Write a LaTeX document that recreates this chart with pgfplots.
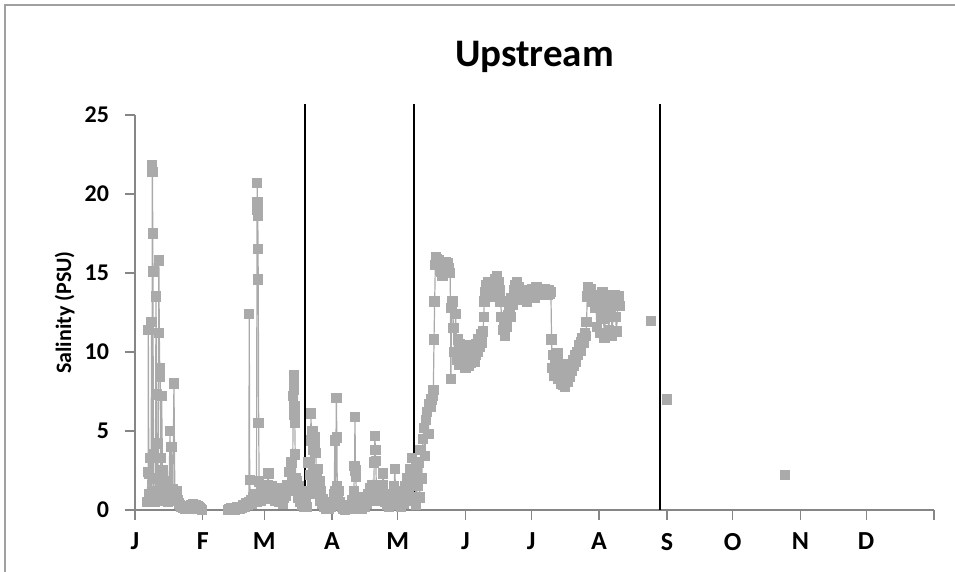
\documentclass[border=0pt]{standalone}
\usepackage{pgfplots}
\pgfplotsset{compat=1.18}
\usepackage{fontspec}
\setmainfont{Carlito}
\definecolor{dat}{RGB}{170,170,170}
\definecolor{axc}{RGB}{134,134,134}
\definecolor{frm}{RGB}{160,160,160}
\pgfplotsset{datst/.style={color=dat, line width=0.6pt, mark=square*, mark size=2.3pt, mark options={fill=dat, draw=dat, solid}}}
\begin{document}
\begin{tikzpicture}
\useasboundingbox (-67.5pt,-31pt) rectangle (410pt,255pt);
\draw[frm, line width=0.6pt] (-65pt,-31pt) -- (-65pt,252.5pt) -- (410pt,252.5pt);
\begin{axis}[
  at={(0,0)}, anchor=south west,
  scale only axis, width=399.5pt, height=197.5pt,
  xmin=0, xmax=365, ymin=0, ymax=25,
  clip=false,
  axis lines=left,
  axis line style={axc, line width=0.6pt, -},
  tick style={axc, line width=0.6pt},
  tick align=outside,
  major tick length=5pt,
  xtick={0,31,59,90,120,151,181,212,243,273,304,334,365},
  xticklabels={J,F,M,A,M,J,J,A,S,O,N,D,},
  ytick={0,5,10,15,20,25},
  /pgf/number format/assume math mode=true,
  xticklabel style={font=\bfseries\fontsize{13}{15}\selectfont, anchor=north, yshift=-3pt},
  yticklabel style={font=\bfseries\fontsize{12}{14}\selectfont, anchor=east, xshift=-4.5pt},
  title={Upstream},
  title style={font=\bfseries\fontsize{19.5}{22}\selectfont, at={(0.5,1)}, anchor=center, yshift=23pt},
  ylabel={Salinity (PSU)},
  ylabel style={font=\bfseries\fontsize{11}{13}\selectfont, at={(axis description cs:-0.088,0.5)}, anchor=center},
]
% January
\addplot[datst] coordinates {
(5.5,0.5)(6,2.4)(6.1,11.4)(6.3,2.3)(6.6,1.0)(7,3.3)(7.3,0.8)(7.6,11.9)(7.8,1.2)(7.9,21.8)(8.0,21.4)(8.1,17.5)(8.2,15.1)(8.4,3.5)(8.6,0.9)(9,0.5)(9.3,1.2)(9.6,13.5)(9.8,7.3)(10,2.0)(10.3,0.8)(10.6,4.2)(10.9,15.8)(11.1,11.2)(11.3,9.0)(11.5,8.4)(11.7,3.3)(11.9,1.5)(12.2,7.2)(12.5,2.5)(12.8,0.7)(13.1,1.8)(13.5,0.9)(14,0.6)(14.5,1.1)(15,0.5)(15.5,0.9)(16,5.0)(16.3,0.8)(16.7,4.0)(17,0.6)(17.3,1.3)(17.8,8.0)(18.2,1.0)(18.6,0.8)(19,1.2)(19.5,0.6)(20,0.4)(20.5,0.3)(21,0.2)(21.5,0.25)(22,0.15)(22.5,0.2)(23,0.1)(23.5,0.15)(24,0.2)(24.5,0.1)(25,0.2)(25.5,0.3)(26,0.2)(26.5,0.35)(27,0.3)(27.5,0.2)(28,0.3)(28.5,0.25)(29,0.15)(29.5,0.1)(30,0.05)(30.5,0.0)
};
% March to August
\addplot[datst] coordinates {
(42.5,0.0)(43,0.05)(43.5,0.0)(44,0.1)(44.5,0.05)(45,0.1)(45.5,0.0)(46,0.1)(46.5,0.15)(47,0.1)(47.5,0.2)(48,0.1)(48.5,0.2)(49,0.15)(49.5,0.3)(50,0.2)(50.5,0.3)(51,0.4)(51.5,0.3)(52,0.5)(52.2,12.4)(52.4,1.9)(52.7,0.5)(53,0.6)(53.5,0.4)(54,0.8)(54.5,0.6)(55,1.0)(55.5,0.5)(55.8,20.7)(55.9,19.5)(56.0,19.0)(56.1,18.6)(56.2,16.5)(56.3,14.6)(56.5,5.5)(56.7,1.8)(57,0.9)(57.5,0.6)(58,1.2)(58.5,0.8)(59,1.5)(59.5,1.0)(60,0.7)(60.5,1.6)(60.9,2.3)(61.2,1.2)(61.6,0.8)(62,1.1)(62.5,1.5)(63,0.9)(63.5,1.3)(64,0.6)(64.5,1.0)(65,1.4)(65.5,0.8)(66,0.5)(66.5,0.9)(67,0.6)(67.5,0.4)(68,0.8)(68.5,1.2)(69,0.9)(69.5,1.6)(70,1.2)(70.5,2.4)(71,1.5)(71.5,3.0)(72,2.0)(72.3,7.2)(72.5,8.5)(72.6,8.0)(72.7,7.6)(72.8,6.6)(72.9,6.0)(73,5.5)(73.2,3.5)(73.4,2.0)(73.7,1.2)(74,1.8)(74.5,0.8)(75,1.5)(75.5,0.5)(76,1.0)(76.5,0.3)(77,0.6)(77.5,0.2)
(78,0.4)(78.5,0.2)(79,1.2)(79.3,3.0)(79.6,1.0)(80,2.2)(80.4,6.1)(80.6,4.4)(80.8,1.8)(81.1,5.0)(81.4,3.8)(81.7,1.2)(82,4.6)(82.3,4.2)(82.6,3.6)(82.9,2.2)(83.2,1.5)(83.5,2.6)(83.8,1.0)(84.2,1.8)(84.6,0.6)(85,1.2)(85.5,0.4)(86,0.7)(86.5,0.2)(87,0.3)(87.5,0.1)(88,0.2)(88.5,0.1)(89,0.3)(89.5,0.2)(90,0.5)(90.5,0.3)(91,1.0)(91.3,4.4)(91.6,1.2)(92,7.1)(92.2,4.6)(92.4,1.5)(92.7,0.8)(93,1.2)(93.5,0.5)(94,0.3)(94.5,0.2)(95,0.1)(95.5,0.2)(96,0.0)(96.5,0.1)(97,0.2)(97.5,0.1)(98,0.3)(98.5,0.2)(99,0.6)(99.5,0.4)(100,1.2)(100.3,2.8)(100.5,5.9)(100.7,2.5)(100.9,2.1)(101.2,0.8)(101.6,0.4)(102,0.2)(102.5,0.1)(103,0.2)(103.5,0.1)(104,0.3)(104.5,0.5)(105,0.2)(105.5,0.8)(106,0.4)(106.5,1.0)(107,0.6)(107.5,1.4)(108,0.8)(108.5,1.6)(109,1.0)(109.3,3.0)(109.6,4.7)(109.8,3.8)(110,3.1)(110.3,1.2)(110.7,0.8)(111,1.5)(111.5,0.6)(112,1.2)(112.5,0.9)(113,1.6)(113.4,2.3)(113.8,1.0)(114.2,0.5)(114.6,0.8)(115,0.3)(115.5,0.6)(116,0.2)(116.5,0.4)(117,0.3)(117.5,0.7)(118,1.0)(118.4,1.5)(118.7,2.6)(119,1.2)(119.5,0.6)(120,0.3)(120.5,0.8)(121,0.4)(121.5,0.2)(122,0.5)(122.5,1.0)(123,0.4)(123.5,1.5)(124,0.8)(124.5,2.0)(125,1.2)(125.5,2.6)(126,1.5)(126.5,3.3)(127,1.8)(127.5,0.6)(128,2.5)(128.5,0.3)(129,1.5)(129.5,3.0)(130,0.8)(130.5,3.8)(131,2.0)(131.5,4.5)(132,5.2)(132.5,3.4)(133,5.7)(133.5,6.2)(134,4.8)(134.5,6.7)(135,6.5)(135.5,7.0)(136,7.2)(136.3,7.6)(136.6,10.8)(136.9,13.2)(137.2,15.5)(137.5,16.0)
(138,15.9)(138.5,15.7)(139,15.8)(139.5,15.4)(140,15.1)(140.5,14.8)(141,15.2)(141.5,15.6)(142,15.7)(142.5,15.5)(143,15.6)(143.5,15.3)(144,15.0)(144.3,8.3)(144.6,12.8)(145,13.2)(145.5,11.5)(146,10.0)(146.5,12.4)(147,9.5)(147.5,10.8)(148,9.2)(148.5,10.5)(149,9.8)(149.5,9.3)(150,10.2)(150.5,9.6)(151,9.0)(151.5,10.4)(152,9.5)(152.5,9.1)(153,10.0)(153.5,9.3)(154,9.6)(154.5,10.1)(155,9.4)(155.5,9.8)(156,10.5)(156.5,10.0)(157,10.8)(157.5,10.3)(158,11.1)(158.5,10.6)(159,11.3)(159.3,12.2)(159.6,13.2)
(160,13.8)(160.5,14.2)(161,13.6)(161.5,14.4)(162,13.9)(162.5,14.1)(163,13.5)(163.5,14.3)(164,14.0)(164.5,14.6)(165,14.3)(165.5,14.8)(166,14.4)(166.5,13.9)(167,13.2)(167.5,12.2)(168,11.4)(168.5,12.0)(169,11.0)(169.5,12.2)(170,11.6)(170.5,12.3)(171,12.8)(171.5,12.2)(172,13.4)(172.5,13.0)(173,13.9)(173.5,14.2)(174,13.6)(174.5,14.4)(175,13.8)(175.5,14.1)(176,13.5)(176.5,13.9)(177,13.3)(177.5,13.7)(178,13.4)(178.5,13.9)(179,13.2)(179.5,13.6)(180,13.5)(180.5,13.9)(181,13.6)(181.5,14.0)(182,13.7)(182.5,13.4)(183,13.8)(183.5,14.1)(184,13.7)(184.5,13.9)(185,13.6)(185.5,14.0)(186,13.8)(186.5,13.7)(187,14.0)(187.5,13.8)(188,13.9)(188.5,13.6)(189,13.9)(189.5,13.7)(190,13.8)
(190.3,10.8)(190.6,9.0)(191,9.8)(191.5,8.5)(192,9.5)(192.5,8.8)(193,9.9)(193.5,8.3)(194,9.2)(194.5,8.0)(195,8.7)(195.5,7.9)(196,8.3)(196.5,7.8)(197,8.5)(197.5,8.1)(198,8.9)(198.5,8.4)(199,9.2)(199.5,8.8)(200,9.5)(200.5,9.1)(201,9.8)(201.5,9.4)(202,10.0)(202.5,9.8)(203,10.4)(203.5,10.1)(204,10.6)(204.5,10.9)(205,10.6)(205.5,11.2)(206,11.0)(206.3,11.9)(206.6,13.5)(207,14.1)(207.5,13.8)(208,14.0)(208.5,13.5)(209,13.2)(209.5,13.6)(210,12.8)
(210.5,13.2)(211,11.6)(211.5,12.9)(212,13.5)(212.5,11.2)(213,12.6)(213.5,13.8)(214,12.1)(214.5,10.9)(215,13.0)(215.5,13.6)(216,12.3)(216.5,11.4)(217,13.4)(217.5,12.8)(218,11.0)(218.5,13.1)(219,13.6)(219.5,12.2)(220,11.3)(220.5,13.0)(221,13.5)(221.5,12.9)
};
% isolated readings
\addplot[datst, only marks] coordinates {(235.6,11.96)(242.9,7.0)(296.8,2.2)};
% vertical markers
\addplot[black, line width=0.8pt, mark=none] coordinates {(77.6,0)(77.6,25.7)};
\addplot[black, line width=0.8pt, mark=none] coordinates {(127.4,0)(127.4,25.7)};
\addplot[black, line width=0.8pt, mark=none] coordinates {(239.7,0)(239.7,25.7)};
\end{axis}
\end{tikzpicture}
\end{document}
